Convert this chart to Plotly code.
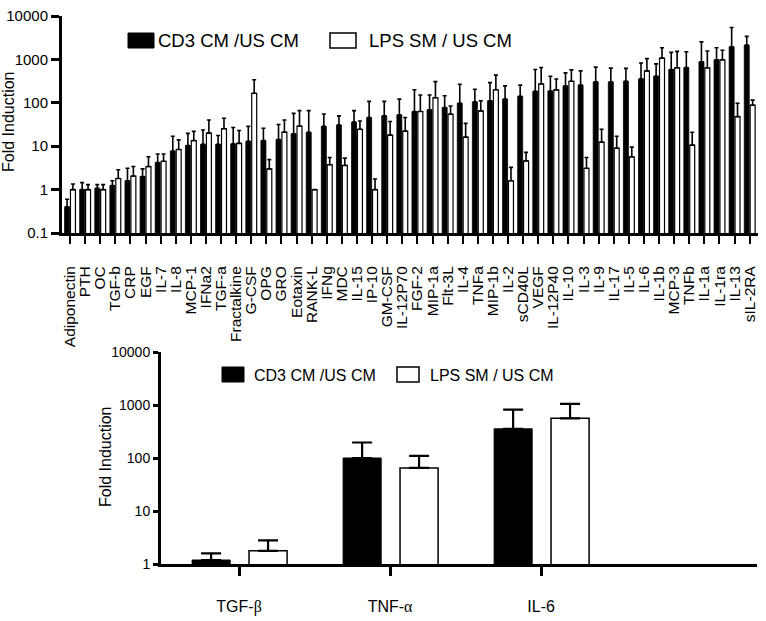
import plotly.graph_objects as go

# ---------------- data (top panel) ----------------
cytokines = ["Adiponectin", "PTH", "OC", "TGF-b", "CRP", "EGF", "IL-7", "IL-8", "MCP-1",
             "IFNa2", "TGF-a", "Fractalkine", "G-CSF", "OPG", "GRO", "Eotaxin", "RANK-L",
             "IFNg", "MDC", "IL-15", "IP-10", "GM-CSF", "IL-12P70", "FGF-2", "MIP-1a",
             "Flt-3L", "IL-4", "TNFa", "MIP-1b", "IL-2", "sCD40L", "VEGF", "IL-12P40",
             "IL-10", "IL-3", "IL-9", "IL-17", "IL-5", "IL-6", "IL-1b", "MCP-3", "TNFb",
             "IL-1a", "IL-1ra", "IL-13", "sIL-2RA"]
cd3_fold = [0.40, 1.0, 1.07, 1.24, 1.6, 2.0, 4.2, 7.7, 10.4,
            11, 11, 11.3, 12.9, 13.5, 14.3, 19.4, 21,
            28.7, 30.8, 36, 45.7, 50, 52.6, 63, 69,
            78, 98, 105, 111, 122, 141, 184, 187,
            245, 256, 303, 303, 314, 355, 410, 585, 650,
            885, 980, 1950, 2130]
cd3_err = [0.2, 0.45, 0.23, 0.36, 1.5, 1.0, 2.4, 9.3, 9.3,
           12.6, 6.7, 15.7, 15.8, 12.5, 17.2, 37.6, 45,
           26.3, 19.2, 30, 62, 58, 69, 137, 82,
           67, 169, 100, 181, 123, 115, 401, 223,
           245, 289, 362, 327, 306, 470, 380, 865, 850,
           1655, 880, 3500, 1270]
lps_fold = [1.0, 1.0, 1.0, 1.8, 2.05, 3.4, 4.5, 8.4, 13.5,
            20, 25.3, 11.6, 166, 3.0, 21, 29, 1.0,
            3.75, 3.6, 24.5, 1.0, 18, 22.3, 63, 131,
            54.6, 16.2, 65, 200, 1.6, 4.6, 272, 198,
            314, 3.1, 12.4, 9, 5.7, 545, 1070, 640, 10.6,
            640, 980, 48, 88]
lps_err = [0.35, 0.3, 0.3, 1.07, 1.35, 2.3, 2.1, 5.6, 8.5,
           20, 18.7, 11.4, 175, 1.9, 19, 37, 0,
           1.75, 1.7, 13.5, 0.75, 19, 23.4, 88, 177,
           30, 17.4, 46, 235, 1.65, 2.6, 378, 155,
           261, 2.4, 12.1, 8, 3.8, 495, 790, 890, 10.4,
           920, 640, 50, 27]

# ---------------- data (bottom panel) ----------------
markers = ["TGF-β", "TNF-α", "IL-6"]
marker_labels = ['TGF-<span style="font-family:Liberation Serif">β</span>',
                 'TNF-<span style="font-family:Liberation Serif">α</span>',
                 "IL-6"]
cd3_fold2 = [1.19, 100, 355]
cd3_err2 = [0.39, 96, 465]
lps_fold2 = [1.77, 65, 560]
lps_err2 = [1.03, 45, 490]

series_names = ["CD3 CM /US CM", "LPS SM / US CM"]

W, H = 766, 621
FONT = "Liberation Sans, Arial, sans-serif"


def px(x):
    return x / W


def py(y):
    return 1 - y / H


fig = go.Figure()

# top panel bars
fig.add_trace(go.Bar(
    x=cytokines, y=cd3_fold, name=series_names[0], xaxis="x", yaxis="y",
    marker=dict(color="black", line=dict(color="black", width=0.8)),
    width=0.33, offset=-0.36,
    error_y=dict(type="data", symmetric=False, array=cd3_err,
                 arrayminus=[0] * len(cd3_err), color="black", thickness=1.6, width=2),
    showlegend=False))
fig.add_trace(go.Bar(
    x=cytokines, y=lps_fold, name=series_names[1], xaxis="x", yaxis="y",
    marker=dict(color="white", line=dict(color="black", width=1.2)),
    width=0.33, offset=0.03,
    error_y=dict(type="data", symmetric=False, array=lps_err,
                 arrayminus=[0] * len(lps_err), color="black", thickness=1.6, width=2),
    showlegend=False))

# bottom panel bars
fig.add_trace(go.Bar(
    x=markers, y=cd3_fold2, name=series_names[0], xaxis="x2", yaxis="y2",
    marker=dict(color="black", line=dict(color="black", width=1)),
    width=0.252, offset=-0.311,
    error_y=dict(type="data", symmetric=False, array=cd3_err2,
                 arrayminus=[0] * 3, color="black", thickness=2.2, width=10),
    showlegend=False))
fig.add_trace(go.Bar(
    x=markers, y=lps_fold2, name=series_names[1], xaxis="x2", yaxis="y2",
    marker=dict(color="white", line=dict(color="black", width=1.5)),
    width=0.252, offset=0.066,
    error_y=dict(type="data", symmetric=False, array=lps_err2,
                 arrayminus=[0] * 3, color="black", thickness=2.2, width=10),
    showlegend=False))

top_ticks = [0.1, 1, 10, 100, 1000, 10000]
bot_ticks = [1, 10, 100, 1000, 10000]

fig.update_layout(
    width=W, height=H,
    margin=dict(l=0, r=0, t=0, b=0),
    paper_bgcolor="white", plot_bgcolor="white",
    barmode="overlay",
    font=dict(family=FONT, color="black"),
    xaxis=dict(domain=[px(62), px(758)], anchor="y", type="category",
               range=[-0.53, 45.55], showline=True, linewidth=3, linecolor="black",
               tickmode="array", tickvals=cytokines, ticktext=cytokines,
               ticks="outside", ticklen=8, tickwidth=2, tickcolor="black",
               tickangle=-90, tickfont=dict(size=15.5, family=FONT),
               ticklabelstandoff=16, showgrid=False, zeroline=False, automargin=False),
    yaxis=dict(domain=[py(233), py(16)], anchor="x", type="log", range=[-1, 4],
               tickvals=top_ticks, ticktext=[str(t) for t in top_ticks],
               showline=True, linewidth=3, linecolor="black",
               ticks="outside", ticklen=8, tickwidth=2.5, tickcolor="black",
               tickfont=dict(size=15, family=FONT),
               showgrid=False, zeroline=False, automargin=False),
    xaxis2=dict(domain=[px(161), px(757)], anchor="y2", type="category",
                range=[-0.517, 3.43], showline=True, linewidth=3, linecolor="black",
                tickmode="array", tickvals=markers, ticktext=marker_labels,
                ticks="outside", ticklen=9, tickwidth=3, tickcolor="black",
                tickfont=dict(size=16, family=FONT), ticklabelstandoff=17,
                showgrid=False, zeroline=False, automargin=False),
    yaxis2=dict(domain=[py(564), py(352)], anchor="x2", type="log", range=[0, 4],
                tickvals=bot_ticks, ticktext=[str(t) for t in bot_ticks],
                showline=True, linewidth=3, linecolor="black",
                ticks="outside", ticklen=5, tickwidth=2.5, tickcolor="black",
                tickfont=dict(size=14, family=FONT),
                showgrid=False, zeroline=False, automargin=False),
)

# legends (drawn as boxes + text)
shapes = [
    dict(type="rect", xref="paper", yref="paper", x0=px(128), x1=px(154), y0=py(48), y1=py(33),
         fillcolor="black", line=dict(color="black", width=1)),
    dict(type="rect", xref="paper", yref="paper", x0=px(330), x1=px(356), y0=py(48), y1=py(33),
         fillcolor="white", line=dict(color="black", width=1.5)),
    dict(type="rect", xref="paper", yref="paper", x0=px(222), x1=px(244), y0=py(382), y1=py(367),
         fillcolor="black", line=dict(color="black", width=1)),
    dict(type="rect", xref="paper", yref="paper", x0=px(397), x1=px(419), y0=py(382), y1=py(367),
         fillcolor="white", line=dict(color="black", width=1.5)),
]
fig.update_layout(shapes=shapes)

annos = [
    dict(text=series_names[0], x=px(156), y=py(41), xanchor="left", yanchor="middle",
         font=dict(size=18.5)),
    dict(text=series_names[1], x=px(367), y=py(41), xanchor="left", yanchor="middle",
         font=dict(size=18.5)),
    dict(text=series_names[0], x=px(252), y=py(375), xanchor="left", yanchor="middle",
         font=dict(size=16)),
    dict(text=series_names[1], x=px(428), y=py(375), xanchor="left", yanchor="middle",
         font=dict(size=16)),
    dict(text="Fold Induction", x=px(9), y=py(122), xanchor="center", yanchor="middle",
         textangle=-90, font=dict(size=16)),
    dict(text="Fold Induction", x=px(105), y=py(457), xanchor="center", yanchor="middle",
         textangle=-90, font=dict(size=16)),
]
for a in annos:
    a.update(xref="paper", yref="paper", showarrow=False)
    a["font"]["family"] = FONT
    a["font"]["color"] = "black"
fig.update_layout(annotations=annos)

fig.write_html("out.html")
